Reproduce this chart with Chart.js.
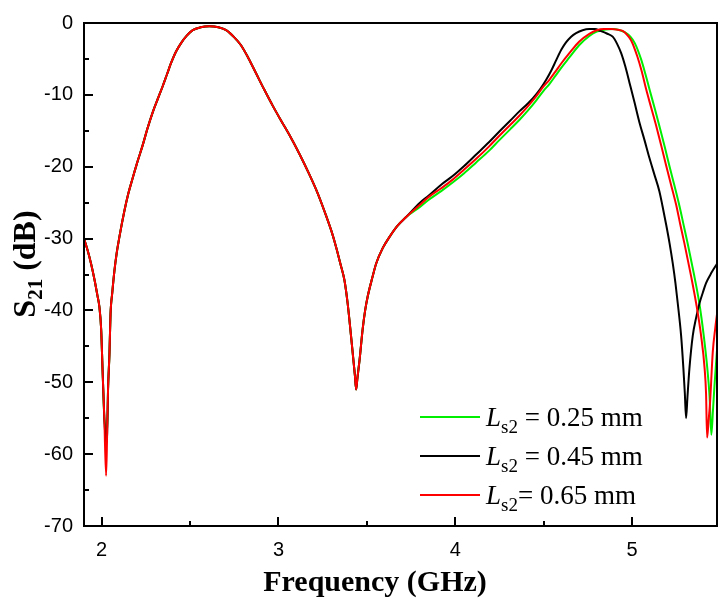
<!DOCTYPE html>
<html>
<head>
<meta charset="utf-8">
<script src="https://cdn.jsdelivr.net/npm/chart.js@4.4.0/dist/chart.umd.min.js"></script>
<style>
html,body{margin:0;padding:0;background:#fff;}
#wrap{width:727px;height:604px;}
</style>
</head>
<body>
<div id="wrap"><canvas id="c" width="727" height="604"></canvas></div>
<script>
// Shared part of the three curves (GHz, dB)
const freqShared = [1.900,1.920,1.940,1.960,1.975,1.987,1.997,2.006,2.015,2.031,2.036,2.044,2.050,2.060,2.072,2.085,2.100,2.128,2.150,2.175,2.200,2.232,2.260,2.289,2.320,2.345,2.370,2.392,2.420,2.449,2.480,2.515,2.560,2.609,2.660,2.704,2.750,2.788,2.830,2.873,2.920,2.967,3.015,3.062,3.120,3.175,3.220,3.269,3.300,3.326,3.350,3.373,3.391,3.410,3.422,3.432,3.439,3.446,3.458,3.476,3.490,3.505,3.530,3.552,3.590,3.627,3.670,3.722];
const s21Shared  = [-30.0,-31.6,-33.5,-35.8,-37.8,-39.5,-42.6,-49.0,-55.0,-57.0,-51.0,-46.0,-40.5,-37.5,-34.5,-32.0,-29.8,-26.2,-23.8,-21.6,-19.5,-17.0,-14.6,-12.4,-10.4,-8.8,-7.1,-5.6,-4.0,-2.8,-1.8,-1.0,-0.6,-0.46,-0.6,-1.0,-2.0,-3.1,-4.9,-7.0,-9.3,-11.5,-13.6,-15.6,-18.3,-21.1,-23.6,-26.8,-29.0,-31.2,-33.5,-35.8,-39.0,-43.5,-46.5,-49.0,-51.0,-49.5,-47.0,-42.6,-40.0,-38.0,-35.5,-33.5,-31.3,-29.8,-28.3,-27.0];

// First notch tip (differs slightly per curve)
const notchFreq = 2.025;
const notchGreen = -56.5, notchBlack = -58.5, notchRed = -63.0;

// Upper band, Ls2 = 0.25 mm (green)
const freqGreenR = [3.80,3.85,3.92,3.985,4.05,4.118,4.19,4.249,4.31,4.362,4.41,4.457,4.50,4.532,4.565,4.60,4.645,4.70,4.758,4.80,4.85,4.89,4.93,4.96,4.99,5.015,5.05,5.075,5.10,5.128,5.156,5.185,5.212,5.24,5.268,5.292,5.315,5.335,5.354,5.38,5.405,5.425,5.438,5.448,5.457,5.466,5.48];
const s21GreenR  = [-25.6,-24.6,-23.4,-22.2,-20.9,-19.4,-17.8,-16.3,-14.8,-13.5,-12.2,-10.8,-9.4,-8.5,-7.4,-6.2,-4.8,-3.1,-1.8,-1.2,-0.9,-0.85,-1.0,-1.3,-1.9,-2.8,-5.0,-7.1,-9.4,-11.9,-14.5,-17.3,-20.0,-22.7,-25.5,-28.2,-30.8,-33.2,-35.5,-39.0,-43.5,-48.0,-52.0,-57.3,-54.0,-50.4,-45.5];

// Upper band, Ls2 = 0.45 mm (black)
const freqBlackR = [3.80,3.85,3.92,3.985,4.05,4.118,4.19,4.249,4.31,4.362,4.41,4.438,4.48,4.514,4.545,4.57,4.60,4.626,4.655,4.683,4.72,4.758,4.79,4.82,4.86,4.89,4.915,4.938,4.962,4.985,5.013,5.041,5.07,5.098,5.126,5.154,5.172,5.192,5.212,5.23,5.245,5.258,5.277,5.29,5.298,5.305,5.313,5.324,5.343,5.362,5.381,5.40,5.418,5.45,5.48];
const s21BlackR  = [-25.0,-24.0,-22.5,-21.3,-19.9,-18.3,-16.6,-15.1,-13.6,-12.3,-11.2,-10.5,-9.2,-7.9,-6.5,-5.2,-3.7,-2.7,-1.9,-1.4,-1.0,-0.85,-0.85,-1.1,-1.5,-1.9,-2.9,-4.2,-6.1,-8.3,-11.0,-13.8,-16.3,-18.8,-21.1,-23.4,-25.5,-28.0,-30.7,-33.5,-36.2,-39.0,-43.5,-48.1,-51.5,-55.0,-52.0,-48.1,-43.5,-41.0,-39.0,-37.5,-36.2,-34.7,-33.5];

// Upper band, Ls2 = 0.65 mm (red)
const freqRedR = [3.80,3.85,3.92,3.985,4.05,4.118,4.19,4.249,4.31,4.362,4.41,4.457,4.50,4.532,4.565,4.60,4.645,4.70,4.758,4.80,4.84,4.88,4.92,4.946,4.97,4.994,5.03,5.055,5.079,5.108,5.136,5.165,5.192,5.22,5.249,5.272,5.296,5.315,5.334,5.362,5.39,5.41,5.418,5.424,5.432,5.441,5.456,5.47,5.48];
const s21RedR  = [-25.3,-24.2,-23.0,-21.8,-20.4,-18.9,-17.2,-15.7,-14.2,-12.9,-11.6,-10.2,-8.8,-7.9,-6.8,-5.6,-4.2,-2.6,-1.5,-1.0,-0.85,-0.85,-0.95,-1.1,-1.6,-2.4,-4.7,-6.8,-9.2,-11.8,-14.3,-17.1,-19.8,-22.5,-25.3,-28.0,-30.7,-33.0,-35.3,-39.0,-43.5,-48.1,-51.5,-57.7,-55.5,-52.7,-45.8,-42.5,-40.5];

const xTicks = [2,3,4,5];
const xMinor = [2.5,3.5,4.5];
const yTicks = [0,-10,-20,-30,-40,-50,-60,-70];
const yMinor = [-5,-15,-25,-35,-45,-55,-65];
const legendLabels = [
  {color:'#00ee00', num:' = 0.25 mm'},
  {color:'#000000', num:' = 0.45 mm'},
  {color:'#ff0000', num:'= 0.65 mm'}
];

function buildSeries(tip, fr, sr){
  const pts = freqShared.map((f,i)=>({x:f,y:s21Shared[i]}));
  pts.push({x:notchFreq,y:tip});
  pts.sort((a,b)=>a.x-b.x);
  return pts.concat(fr.map((f,i)=>({x:f,y:sr[i]})));
}

const framePlugin = {
  id:'frame',
  afterDraw(chart){
    const ctx = chart.ctx, a = chart.chartArea;
    const xs = chart.scales.x, ys = chart.scales.y;
    ctx.save();
    ctx.strokeStyle = '#000';
    ctx.lineWidth = 2;
    ctx.strokeRect(a.left, a.top, a.right-a.left, a.bottom-a.top);
    ctx.beginPath();
    xTicks.forEach(v=>{const p=Math.round(xs.getPixelForValue(v)); ctx.moveTo(p,a.bottom); ctx.lineTo(p,a.bottom-9);});
    xMinor.forEach(v=>{const p=Math.round(xs.getPixelForValue(v)); ctx.moveTo(p,a.bottom); ctx.lineTo(p,a.bottom-5);});
    yTicks.forEach(v=>{const p=Math.round(ys.getPixelForValue(v)); ctx.moveTo(a.left,p); ctx.lineTo(a.left+9,p);});
    yMinor.forEach(v=>{const p=Math.round(ys.getPixelForValue(v)); ctx.moveTo(a.left,p); ctx.lineTo(a.left+5,p);});
    ctx.stroke();

    // x title
    ctx.fillStyle = '#000';
    ctx.font = 'bold 30px "Liberation Serif"';
    ctx.textAlign = 'center';
    ctx.textBaseline = 'alphabetic';
    ctx.fillText('Frequency (GHz)', 375, 591);

    // y title with subscript
    ctx.save();
    ctx.translate(35, 264);
    ctx.rotate(-Math.PI/2);
    ctx.textAlign = 'left';
    const big = 'bold 32px "Liberation Serif"', small = 'bold 21px "Liberation Serif"';
    ctx.font = big; const wS = ctx.measureText('S').width; const wR = ctx.measureText(' (dB)').width;
    ctx.font = small; const wSub = ctx.measureText('21').width;
    let x0 = -(wS+wSub+wR)/2;
    ctx.font = big; ctx.fillText('S', x0, 0);
    ctx.font = small; ctx.fillText('21', x0+wS, 7);
    ctx.font = big; ctx.fillText(' (dB)', x0+wS+wSub, 0);
    ctx.restore();

    // legend
    const ly = [417, 456, 495];
    legendLabels.forEach((e,i)=>{
      const y = ly[i];
      ctx.strokeStyle = e.color; ctx.lineWidth = 2;
      ctx.beginPath(); ctx.moveTo(420,y); ctx.lineTo(480,y); ctx.stroke();
      ctx.fillStyle = '#000'; ctx.textAlign='left';
      let x = 486;
      ctx.font = 'italic 27px "Liberation Serif"'; ctx.fillText('L', x, y+9); x += ctx.measureText('L').width;
      ctx.font = '19px "Liberation Serif"'; ctx.fillText('s2', x, y+16); x += ctx.measureText('s2').width;
      ctx.font = '27px "Liberation Serif"'; ctx.fillText(e.num, x, y+9);
    });
    ctx.restore();
  }
};

new Chart(document.getElementById('c'), {
  type:'line',
  data:{datasets:[
    {label:'Ls2 = 0.65 mm', data:buildSeries(notchRed, freqRedR, s21RedR), borderColor:'#ff0000', order:0},
    {label:'Ls2 = 0.45 mm', data:buildSeries(notchBlack, freqBlackR, s21BlackR), borderColor:'#000000', order:1},
    {label:'Ls2 = 0.25 mm', data:buildSeries(notchGreen, freqGreenR, s21GreenR), borderColor:'#00ee00', order:2}
  ]},
  options:{
    responsive:false, animation:false,
    devicePixelRatio:1,
    datasets:{line:{borderWidth:2, pointRadius:0, fill:false, cubicInterpolationMode:'monotone'}},
    layout:{padding:{top:16,right:10,left:0,bottom:0}},
    plugins:{legend:{display:false}, tooltip:{enabled:false}},
    scales:{
      x:{type:'linear', min:1.9, max:5.48,
        afterBuildTicks(s){ s.ticks = xTicks.map(v=>({value:v})); },
        afterFit(s){ s.height = 78; },
        grid:{drawOnChartArea:false, drawTicks:false},
        border:{display:false},
        ticks:{color:'#000', font:{family:'"Liberation Sans"', size:20}, padding:12, maxRotation:0, callback:v=>String(v)}
      },
      y:{type:'linear', min:-70, max:0,
        afterBuildTicks(s){ s.ticks = yTicks.map(v=>({value:v})); },
        afterFit(s){ s.width = 84; },
        grid:{drawOnChartArea:false, drawTicks:false},
        border:{display:false},
        ticks:{color:'#000', font:{family:'"Liberation Sans"', size:20}, padding:11, callback:v=>String(v)}
      }
    }
  },
  plugins:[framePlugin]
});
</script>
</body>
</html>
